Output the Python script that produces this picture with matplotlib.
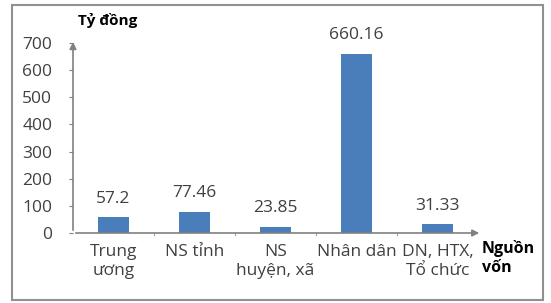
import matplotlib.pyplot as plt
from matplotlib.patches import Rectangle

categories = ['Trung\nương', 'NS tỉnh', 'NS\nhuyện, xã', 'Nhân dân', 'DN, HTX,\nTổ chức']
values = [57.2, 77.46, 23.85, 660.16, 31.33]
labels = ['57.2', '77.46', '23.85', '660.16', '31.33']
yticks = [0, 100, 200, 300, 400, 500, 600, 700]

plt.rcParams['font.family'] = ['Open Sans', 'DejaVu Sans']

fig = plt.figure(figsize=(5.51, 3.03), dpi=100, facecolor='white')
ax = fig.add_axes([73/551, 1 - 233/303, (478 - 73)/551, (233 - 43)/303])

x = list(range(len(values)))
ax.bar(x, values, width=0.38, color='#4a7ebb', zorder=3)
for xi, v, lab in zip(x, values, labels):
    ax.text(xi, v + 40, lab, ha='center', va='bottom', fontsize=12.5, color='#404040')

ax.set_xlim(-0.5, len(values) - 0.5)
ax.set_ylim(0, 700)
ax.set_yticks(yticks)
ax.set_yticklabels([str(t) for t in yticks], fontsize=12.5, color='#404040')
ax.set_xticks(x)
ax.set_xticklabels(categories, fontsize=12.5, color='#404040', linespacing=1.25)
ax.tick_params(axis='x', length=0, pad=8)
ax.tick_params(axis='y', length=3, color='#808080', pad=12)
# category boundary ticks on x axis
for b in [i + 0.5 for i in range(len(values) - 1)]:
    ax.plot([b, b], [0, -8], color='#a0a0a0', lw=0.8, clip_on=False)

for s in ['top', 'right', 'left', 'bottom']:
    ax.spines[s].set_visible(False)

# axes with arrows
ax.annotate('', xy=(0, 1.02), xytext=(0, 0), xycoords='axes fraction',
            arrowprops=dict(arrowstyle='-|>', color='#808080', lw=1.2, mutation_scale=10))
ax.annotate('', xy=(1.01, 0), xytext=(0, 0), xycoords='axes fraction',
            arrowprops=dict(arrowstyle='-|>', color='#808080', lw=1.2, mutation_scale=10))

fig.text(78/551, 1 - 20/303, 'Tỷ đồng', fontsize=11, fontweight='bold', va='center', ha='left')
fig.text(482/551, 1 - 258/303, 'Nguồn\nvốn', fontsize=11.5, fontweight='bold', va='center', ha='left',
         linespacing=1.3)

fig.patches.append(Rectangle((12/551, 3/303), 531/551, 295/303, transform=fig.transFigure,
                             fill=False, edgecolor='#909090', lw=1.5))

fig.savefig('out.png', dpi=100)
